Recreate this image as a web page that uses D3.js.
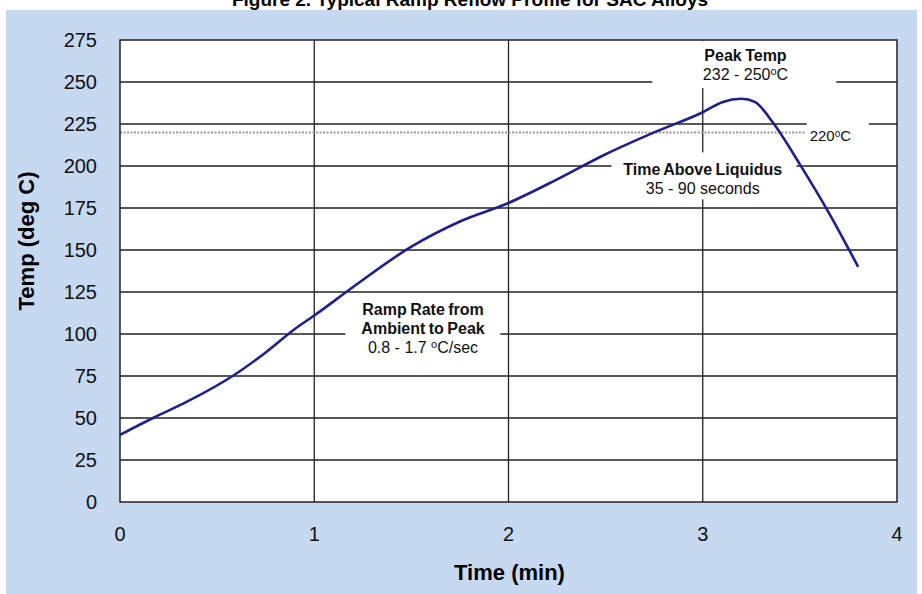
<!DOCTYPE html>
<html>
<head>
<meta charset="utf-8">
<script src="https://cdn.jsdelivr.net/npm/d3@7"></script>
<style>
  body { margin: 0; background: #fff; }
  svg text { font-family: "Liberation Sans", Arial, sans-serif; }
</style>
</head>
<body>
<div id="chart"></div>
<script>
// reflow profile (time in min, temp in deg C)
var time = [0, 0.17, 0.35, 0.58, 0.75, 0.9, 1.0, 1.2, 1.5, 1.75, 2.0, 2.25, 2.5, 2.75, 3.0, 3.1, 3.2, 3.27, 3.36, 3.5, 3.65, 3.8];
var temp = [40, 50, 60, 75, 89, 103, 111, 128, 152, 167, 178, 192, 207, 220, 232, 238, 240, 238, 226, 201, 172, 140];
var xTicks = [0, 1, 2, 3, 4];
var yTicks = [0, 25, 50, 75, 100, 125, 150, 175, 200, 225, 250, 275];
var liquidus = 220;

var W = 922, H = 594;
var margin = {top: 40, right: 25, bottom: 92, left: 120},
    width = W - margin.left - margin.right,
    height = H - margin.top - margin.bottom;

var svg = d3.select("#chart").append("svg")
    .attr("width", W)
    .attr("height", H);

// blue panel + title (cut at the top, as in the source)
svg.append("rect").attr("x", 6).attr("y", 10).attr("width", 911).attr("height", H - 10).attr("fill", "#c6d9f0");
svg.append("text")
    .attr("x", 470).attr("y", 6)
    .attr("text-anchor", "middle")
    .attr("font-size", 19).attr("font-weight", "bold")
    .text("Figure 2. Typical Ramp Reflow Profile for SAC Alloys");

var x = d3.scaleLinear().domain([0, 4]).range([0, width]);
var y = d3.scaleLinear().domain([0, 275]).range([height, 0]);

var g = svg.append("g")
    .attr("transform", "translate(" + margin.left + "," + margin.top + ")");

g.append("rect").attr("width", width).attr("height", height).attr("fill", "#fff");

// grid lines
g.append("g")
    .selectAll("line")
    .data(yTicks.filter(function(d) { return d > 0 && d < 275; }))
    .enter().append("line")
    .attr("x1", 0).attr("x2", width)
    .attr("y1", function(d) { return y(d); })
    .attr("y2", function(d) { return y(d); })
    .attr("stroke", "#222").attr("stroke-width", 1.3);

g.append("g")
    .selectAll("line")
    .data(xTicks.filter(function(d) { return d > 0 && d < 4; }))
    .enter().append("line")
    .attr("y1", 0).attr("y2", height)
    .attr("x1", function(d) { return x(d); })
    .attr("x2", function(d) { return x(d); })
    .attr("stroke", "#222").attr("stroke-width", 1.3);

// liquidus line
g.append("line")
    .attr("x1", 0).attr("x2", x(3.53))
    .attr("y1", y(liquidus)).attr("y2", y(liquidus))
    .attr("stroke", "#999").attr("stroke-width", 2)
    .attr("stroke-dasharray", "2,1.5");

// white boxes behind annotations (they cut the grid)
var boxes = [
  [x(2.74), y(275) + 1, 184, 47],
  [x(2.53), y(220) + 20, 185, 47],
  [x(1.16), y(125) + 5, 155, 64],
  [x(3.53) + 1, y(225) - 8, 62, 22]
];
g.selectAll("rect.box")
    .data(boxes)
    .enter().append("rect")
    .attr("x", function(d) { return d[0]; })
    .attr("y", function(d) { return d[1]; })
    .attr("width", function(d) { return d[2]; })
    .attr("height", function(d) { return d[3]; })
    .attr("fill", "#fff");

// the profile curve
var pts = time.map(function(t, i) { return [t, temp[i]]; });
g.append("path")
    .datum(pts)
    .attr("fill", "none")
    .attr("stroke", "#1f1f8f")
    .attr("stroke-width", 2.6)
    .attr("d", d3.line()
        .curve(d3.curveMonotoneX)
        .x(function(d) { return x(d[0]); })
        .y(function(d) { return y(d[1]); }));

// frame
g.append("rect").attr("width", width).attr("height", height)
    .attr("fill", "none").attr("stroke", "#222").attr("stroke-width", 1.5);

// axes labels
g.selectAll("text.yt")
    .data(yTicks)
    .enter().append("text")
    .attr("x", -23)
    .attr("y", function(d) { return y(d); })
    .attr("dy", "0.35em")
    .attr("text-anchor", "end")
    .attr("font-size", 20)
    .attr("fill", "#111")
    .text(function(d) { return d; });

g.selectAll("text.xt")
    .data(xTicks)
    .enter().append("text")
    .attr("x", function(d) { return x(d); })
    .attr("y", height + 39)
    .attr("text-anchor", "middle")
    .attr("font-size", 20)
    .attr("fill", "#111")
    .text(function(d) { return d; });

g.append("text")
    .attr("x", width / 2 + 1).attr("y", height + 78)
    .attr("text-anchor", "middle")
    .attr("font-size", 22).attr("font-weight", "bold")
    .text("Time (min)");

g.append("text")
    .attr("transform", "translate(-86," + (height / 2 - 30) + ") rotate(-90)")
    .attr("text-anchor", "middle")
    .attr("font-size", 22).attr("font-weight", "bold")
    .text("Temp (deg C)");

// annotations
function note(cx, cy, lines) {
  var t = g.append("text").attr("text-anchor", "middle").attr("fill", "#111");
  lines.forEach(function(l) {
    var ts = t.append("tspan")
        .attr("x", cx)
        .attr("y", cy + l.dy)
        .attr("font-size", 16)
        .attr("font-weight", l.bold ? "bold" : "normal")
        .attr("word-spacing", l.bold ? -1 : 0);
    ts.append("tspan").text(l.a);
    if (l.sup) {
      ts.append("tspan").attr("font-size", 11).attr("dy", -5).text("o");
      ts.append("tspan").attr("dy", 5).text(l.b);
    }
  });
}

note(x(3.22), 21, [
  {a: "Peak Temp", bold: true, dy: 0},
  {a: "232 - 250", sup: true, b: "C", dy: 19}
]);
note(x(3.0), 135, [
  {a: "Time Above Liquidus", bold: true, dy: 0},
  {a: "35 - 90 seconds", dy: 19}
]);
note(x(1.56), 275, [
  {a: "Ramp Rate from", bold: true, dy: 0},
  {a: "Ambient to Peak", bold: true, dy: 19},
  {a: "0.8 - 1.7 ", sup: true, b: "C/sec", dy: 38}
]);

var lt = g.append("text")
    .attr("x", x(3.54) + 2).attr("y", y(liquidus) + 9)
    .attr("font-size", 15).attr("fill", "#111");
lt.append("tspan").text("220");
lt.append("tspan").attr("font-size", 10).attr("dy", -4).text("o");
lt.append("tspan").attr("dy", 4).text("C");
</script>
</body>
</html>
